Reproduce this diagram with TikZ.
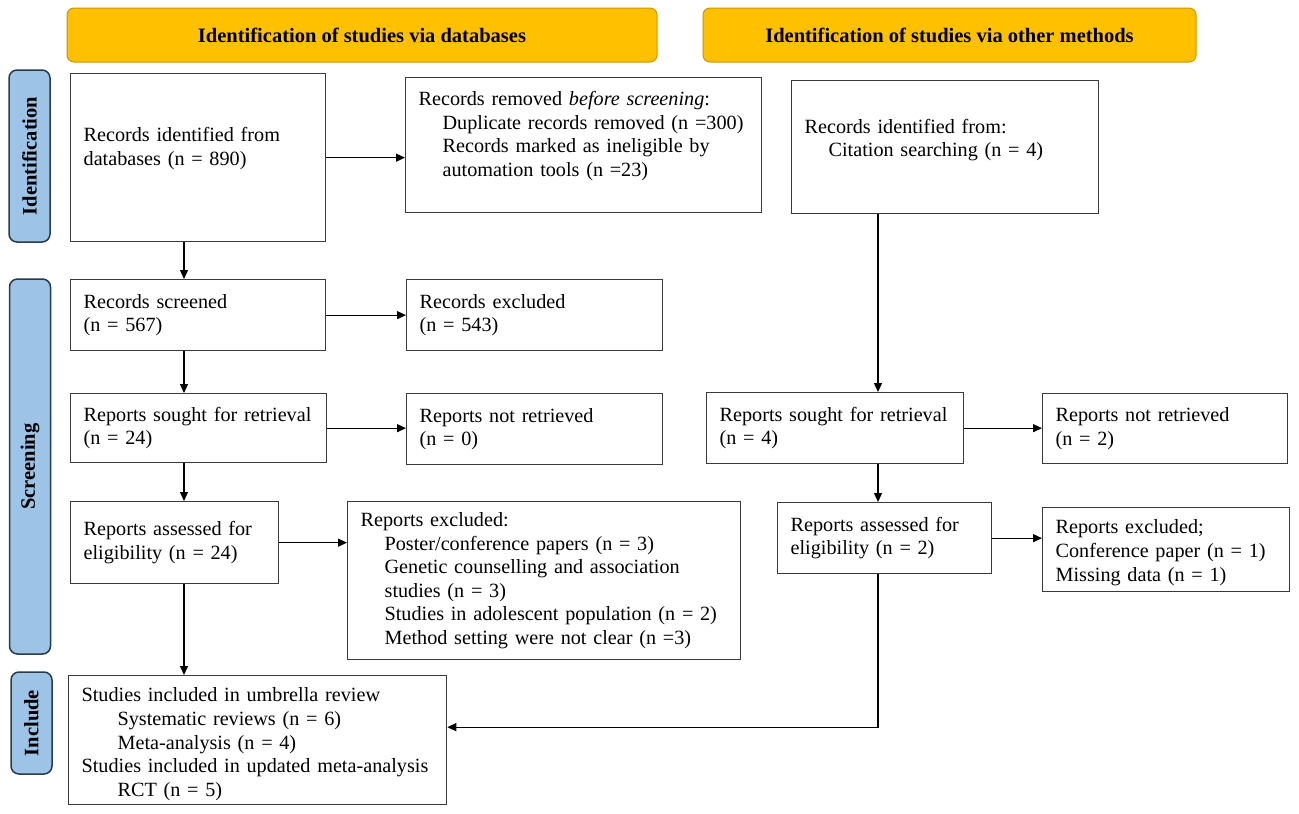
\documentclass[tikz,border=0pt]{standalone}
\usepackage{fontspec}
\setmainfont{Liberation Serif}
\usetikzlibrary{arrows.meta}

\definecolor{hdrorange}{HTML}{FFC000}
\definecolor{hdredge}{HTML}{C99700}
\definecolor{sideblue}{HTML}{9DC3E6}
\definecolor{sideedge}{HTML}{2B3A4A}
\definecolor{boxedge}{HTML}{3A3A3A}

\hyphenpenalty=10000
\exhyphenpenalty=10000

\begin{document}
\begin{tikzpicture}[x=1pt,y=-1pt]
    \newcommand{\flowfont}{\fontsize{20.2}{23.6}\selectfont}
    \newcommand{\headfont}{\fontsize{20.5}{23.6}\selectfont\bfseries}
    \newcommand{\subind}[1][24pt]{\hspace*{#1}\ignorespaces} % indent of the sub-items
    \newcommand{\lw}{1.3pt} % line width of boxes and arrows

    % set the styles of the boxes and arrows
    \tikzset{
        header/.style={
            draw=hdredge, fill=hdrorange,
            rounded corners=7pt, line width=1pt,
            font=\headfont, minimum height=54pt
            },
        phase/.style={
            draw=sideedge, fill=sideblue,
            rounded corners=8pt, line width=1.5pt,
            font=\headfont, minimum height=41pt, rotate=90
            },
        flowbox/.style={
            draw=boxedge, line width=\lw, anchor=north west,
            align=left, inner xsep=13pt, inner ysep=0pt, font=\flowfont
            },
        arr/.style={-{Triangle[length=9pt,width=8pt]}, line width=\lw}
    }

    \useasboundingbox (0,0) rectangle (1299,814);

    % headers
    \node[header, minimum width=590pt] (hdrDb) at (362,35) {Identification of studies via databases};
    \node[header, minimum width=493pt] (hdrOther) at (949.5,35) {Identification of studies via other methods};

    % phases
    \node[phase, minimum width=172pt] (phId) at (29.5,156) {Identification};
    \node[phase, minimum width=375pt] (phScr) at (30,466.5) {Screening};
    \node[phase, minimum width=102pt] (phInc) at (31.5,723) {Include};

    % boxes, databases
    \node[flowbox, text width=229pt, minimum height=168pt, text depth=46pt] (recDb) at (70,73)
        {Records identified from\\databases (n = 890)};
    \node[flowbox, text width=330pt, minimum height=135pt, text depth=93pt] (recRemoved) at (405,77)
        {Records removed \textit{before screening}:\\
         \subind Duplicate records removed (n =300)\\
         \subind Records marked as ineligible by\\
         \subind automation tools (n =23)};
    \node[flowbox, text width=229pt, minimum height=71pt] (recScr) at (70,279) {Records screened\\(n = 567)};
    \node[flowbox, text width=230pt, minimum height=71pt] (recExcl) at (406,279) {Records excluded\\(n = 543)};
    \node[flowbox, text width=230pt, minimum height=69pt] (repSought) at (70,393) {Reports sought for retrieval\\(n = 24)};
    \node[flowbox, text width=230pt, minimum height=71pt] (repNot) at (406,393) {Reports not retrieved\\(n = 0)};
    \node[flowbox, text width=182pt, minimum height=82pt] (repAss) at (70,501) {Reports assessed for\\eligibility (n = 24)};
    \node[flowbox, text width=367pt, minimum height=158pt] (repExcl) at (347,501)
        {Reports excluded:\\
         \subind Poster/conference papers (n = 3)\\
         \subind Genetic counselling and association\\
         \subind studies (n = 3)\\
         \subind Studies in adolescent population (n = 2)\\
         \subind Method setting were not clear (n =3)};

    % boxes, other methods
    \node[flowbox, text width=281pt, minimum height=133pt, text depth=42pt] (citeRec) at (791,80)
        {Records identified from:\\ \subind Citation searching (n = 4)};
    \node[flowbox, text width=231pt, minimum height=71pt] (otherSought) at (706,392) {Reports sought for retrieval\\(n = 4)};
    \node[flowbox, text width=219pt, minimum height=70pt] (otherNot) at (1042,393) {Reports not retrieved\\(n = 2)};
    \node[flowbox, text width=188pt, minimum height=71pt] (otherAss) at (777,502) {Reports assessed for\\eligibility (n = 2)};
    \node[flowbox, text width=221pt, minimum height=84pt, text height=20pt] (otherExcl) at (1042,507)
        {Reports excluded;\\Conference paper (n = 1)\\Missing data (n = 1)};

    % included
    \node[flowbox, text width=352pt, minimum height=129pt, text height=22pt] (incl) at (68,675)
        {Studies included in umbrella review\\
         \subind[36pt] Systematic reviews (n = 6)\\
         \subind[36pt] Meta-analysis (n = 4)\\
         Studies included in updated meta-analysis\\
         \subind[36pt] RCT (n = 5)};

    % arrows
    \coordinate (colL) at (184,0);
    \coordinate (colR) at (878,0);
    \draw[arr] (recDb.south -| colL) -- (recScr.north -| colL);
    \draw[arr] (recScr.south -| colL) -- (repSought.north -| colL);
    \draw[arr] (repSought.south -| colL) -- (repAss.north -| colL);
    \draw[arr] (repAss.south -| colL) -- (incl.north -| colL);
    \draw[arr] (recDb.east) -- (recDb.east -| recRemoved.west);
    \draw[arr] (recScr.east) -- (recScr.east -| recExcl.west);
    \draw[arr] (repSought.east) -- (repSought.east -| repNot.west);
    \draw[arr] (repAss.east) -- (repAss.east -| repExcl.west);

    \draw[arr] (citeRec.south -| colR) -- (otherSought.north -| colR);
    \draw[arr] (otherSought.south -| colR) -- (otherAss.north -| colR);
    \draw[arr] (otherSought.east) -- (otherSought.east -| otherNot.west);
    \draw[arr] (otherAss.east) -- (otherAss.east -| otherExcl.west);
    \draw[arr] (otherAss.south -| colR) |- ([yshift=13pt]incl.east);

\end{tikzpicture}
\end{document}
